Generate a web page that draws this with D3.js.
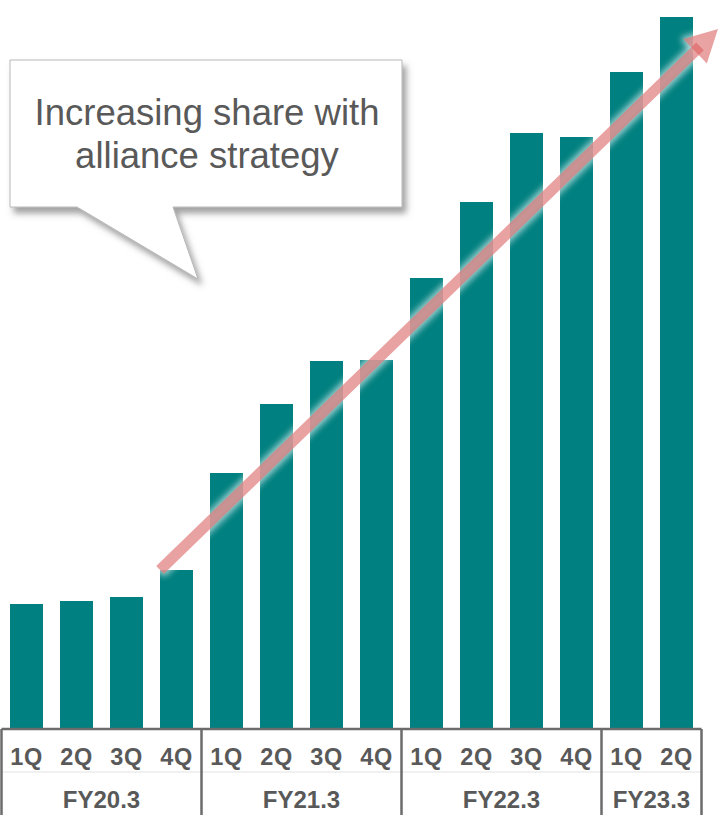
<!DOCTYPE html>
<html>
<head>
<meta charset="utf-8">
<script src="https://cdn.jsdelivr.net/npm/d3@7"></script>
<style>
  html, body { margin: 0; padding: 0; background: #fff; }
  svg { display: block; font-family: "Liberation Sans", Arial, sans-serif; }
</style>
</head>
<body>
<svg id="chart" width="726" height="825"></svg>
<script>
// quarters within each fiscal year
var fiscalYears = ["FY20.3", "FY21.3", "FY22.3", "FY23.3"];
var quarters = [
  ["1Q", "2Q", "3Q", "4Q"],
  ["1Q", "2Q", "3Q", "4Q"],
  ["1Q", "2Q", "3Q", "4Q"],
  ["1Q", "2Q"]
];
// share (relative units)
var shareValues = [125, 128, 132, 159, 256, 325, 368, 369, 451, 527, 596, 592, 657, 712];

var calloutLines = ["Increasing share with", "alliance strategy"];

var BAR_COLOR = "#008080";
var TEXT_COLOR = "#595959";
var LINE_COLOR = "#6b6b6b";

// flat list of bars
var bars = [];
fiscalYears.forEach(function (fy, gi) {
  quarters[gi].forEach(function (q) {
    bars.push({ key: fy + "-" + q, fy: fy, q: q, value: shareValues[bars.length] });
  });
});

var svg = d3.select("#chart");
var baseY = 729;

var x = d3.scaleBand()
  .domain(bars.map(function (d) { return d.key; }))
  .range([1.5, 701.5])
  .paddingInner(0.34)
  .paddingOuter(0.17);

var y = d3.scaleLinear()
  .domain([0, d3.max(shareValues)])
  .range([baseY, 17]);

var gap = (x.step() - x.bandwidth()) / 2;

// -------- filters ---------------------------------------------------------
var defs = svg.append("defs");

var shadow = defs.append("filter").attr("id", "calloutShadow")
  .attr("x", "-10%").attr("y", "-10%").attr("width", "130%").attr("height", "140%");
shadow.append("feDropShadow")
  .attr("dx", 4).attr("dy", 6).attr("stdDeviation", 3)
  .attr("flood-color", "#555").attr("flood-opacity", 0.55);

var glow = defs.append("filter").attr("id", "arrowGlow")
  .attr("x", "-20%").attr("y", "-20%").attr("width", "140%").attr("height", "140%");
glow.append("feMorphology").attr("in", "SourceAlpha").attr("operator", "dilate").attr("radius", 2).attr("result", "fat");
glow.append("feGaussianBlur").attr("in", "fat").attr("stdDeviation", 3).attr("result", "blur");
glow.append("feFlood").attr("flood-color", "#ffffff").attr("flood-opacity", 0.85).attr("result", "white");
glow.append("feComposite").attr("in", "white").attr("in2", "blur").attr("operator", "in").attr("result", "halo");
var merge = glow.append("feMerge");
merge.append("feMergeNode").attr("in", "halo");
merge.append("feMergeNode").attr("in", "SourceGraphic");

// -------- bars ------------------------------------------------------------
svg.append("g")
  .selectAll("rect.bar")
  .data(bars)
  .enter()
  .append("rect")
  .classed("bar", true)
  .attr("x", function (d) { return x(d.key); })
  .attr("y", function (d) { return y(d.value); })
  .attr("width", x.bandwidth())
  .attr("height", function (d) { return baseY - y(d.value); })
  .attr("fill", BAR_COLOR);

// -------- axis ------------------------------------------------------------
var axis = svg.append("g");

axis.append("line")
  .attr("x1", x.range()[0]).attr("x2", x.range()[1])
  .attr("y1", baseY).attr("y2", baseY)
  .attr("stroke", LINE_COLOR).attr("stroke-width", 2.5);

axis.append("line")
  .attr("x1", x.range()[0]).attr("x2", x.range()[1])
  .attr("y1", 772).attr("y2", 772)
  .attr("stroke", "#e3e3e3").attr("stroke-width", 1);

// group boundaries
var groups = fiscalYears.map(function (fy) {
  var members = bars.filter(function (d) { return d.fy === fy; });
  return {
    fy: fy,
    x0: x(members[0].key) - gap,
    x1: x(members[members.length - 1].key) + x.bandwidth() + gap
  };
});
var bounds = [groups[0].x0].concat(groups.map(function (g) { return g.x1; }));

axis.selectAll("line.sep")
  .data(bounds)
  .enter()
  .append("line")
  .classed("sep", true)
  .attr("x1", function (d) { return d; }).attr("x2", function (d) { return d; })
  .attr("y1", baseY).attr("y2", 815)
  .attr("stroke", LINE_COLOR).attr("stroke-width", 2.5);

axis.selectAll("text.q")
  .data(bars)
  .enter()
  .append("text")
  .classed("q", true)
  .attr("x", function (d) { return x(d.key) + x.bandwidth() / 2; })
  .attr("y", 765)
  .attr("text-anchor", "middle")
  .attr("font-size", 23.5)
  .attr("font-weight", "bold")
  .attr("letter-spacing", 0.5)
  .attr("fill", TEXT_COLOR)
  .text(function (d) { return d.q; });

axis.selectAll("text.fy")
  .data(groups)
  .enter()
  .append("text")
  .classed("fy", true)
  .attr("x", function (d) { return (d.x0 + d.x1) / 2; })
  .attr("y", 808)
  .attr("text-anchor", "middle")
  .attr("font-size", 24)
  .attr("font-weight", "bold")
  .attr("fill", TEXT_COLOR)
  .text(function (d) { return d.fy; });

// -------- trend arrow -----------------------------------------------------
// from the top of FY20.3 4Q up past the last bar
var startBar = bars[3], endBar = bars[bars.length - 1];
var p0 = [x(startBar.key), y(startBar.value)];
var p1 = [x(endBar.key) + x.bandwidth() + 25, y(endBar.value) + 12];
var dx = p1[0] - p0[0], dy = p1[1] - p0[1];
var len = Math.sqrt(dx * dx + dy * dy);
var ux = dx / len, uy = dy / len, nx = -uy, ny = ux;
var shaftW = 5.5, headLen = 32, headW = 17;
var hb = [p1[0] - ux * headLen, p1[1] - uy * headLen];
var se = [hb[0] + ux * 7, hb[1] + uy * 7];

var arrow = svg.append("g").attr("filter", "url(#arrowGlow)");
arrow.append("path")
  .attr("d", d3.line()([
    [p0[0] + nx * shaftW, p0[1] + ny * shaftW],
    [se[0] + nx * shaftW, se[1] + ny * shaftW],
    [se[0] - nx * shaftW, se[1] - ny * shaftW],
    [p0[0] - nx * shaftW, p0[1] - ny * shaftW]
  ]) + "Z")
  .attr("fill", "#e06464").attr("fill-opacity", 0.7);
arrow.append("path")
  .attr("d", d3.line()([
    [hb[0] + nx * headW, hb[1] + ny * headW],
    p1,
    [hb[0] - nx * headW, hb[1] - ny * headW]
  ]) + "Z")
  .attr("fill", "#e06464").attr("fill-opacity", 0.7);

// -------- callout ---------------------------------------------------------
var box = { left: 10, top: 60, right: 402, bottom: 207 };
var tail = [[173, 207], [198, 279], [77, 207]];

var callout = svg.append("g");
callout.append("path")
  .attr("d", d3.line()([
    [box.left, box.top], [box.right, box.top], [box.right, box.bottom]
  ].concat(tail).concat([[box.left, box.bottom]])) + "Z")
  .attr("fill", "#ffffff")
  .attr("stroke", "#b8b8b8")
  .attr("stroke-width", 1)
  .attr("filter", "url(#calloutShadow)");

callout.selectAll("text")
  .data(calloutLines)
  .enter()
  .append("text")
  .attr("x", (box.left + box.right) / 2 + 1)
  .attr("y", function (d, i) { return 125 + i * 43; })
  .attr("text-anchor", "middle")
  .attr("font-size", 36.5)
  .attr("fill", TEXT_COLOR)
  .text(function (d) { return d; });
</script>
</body>
</html>
